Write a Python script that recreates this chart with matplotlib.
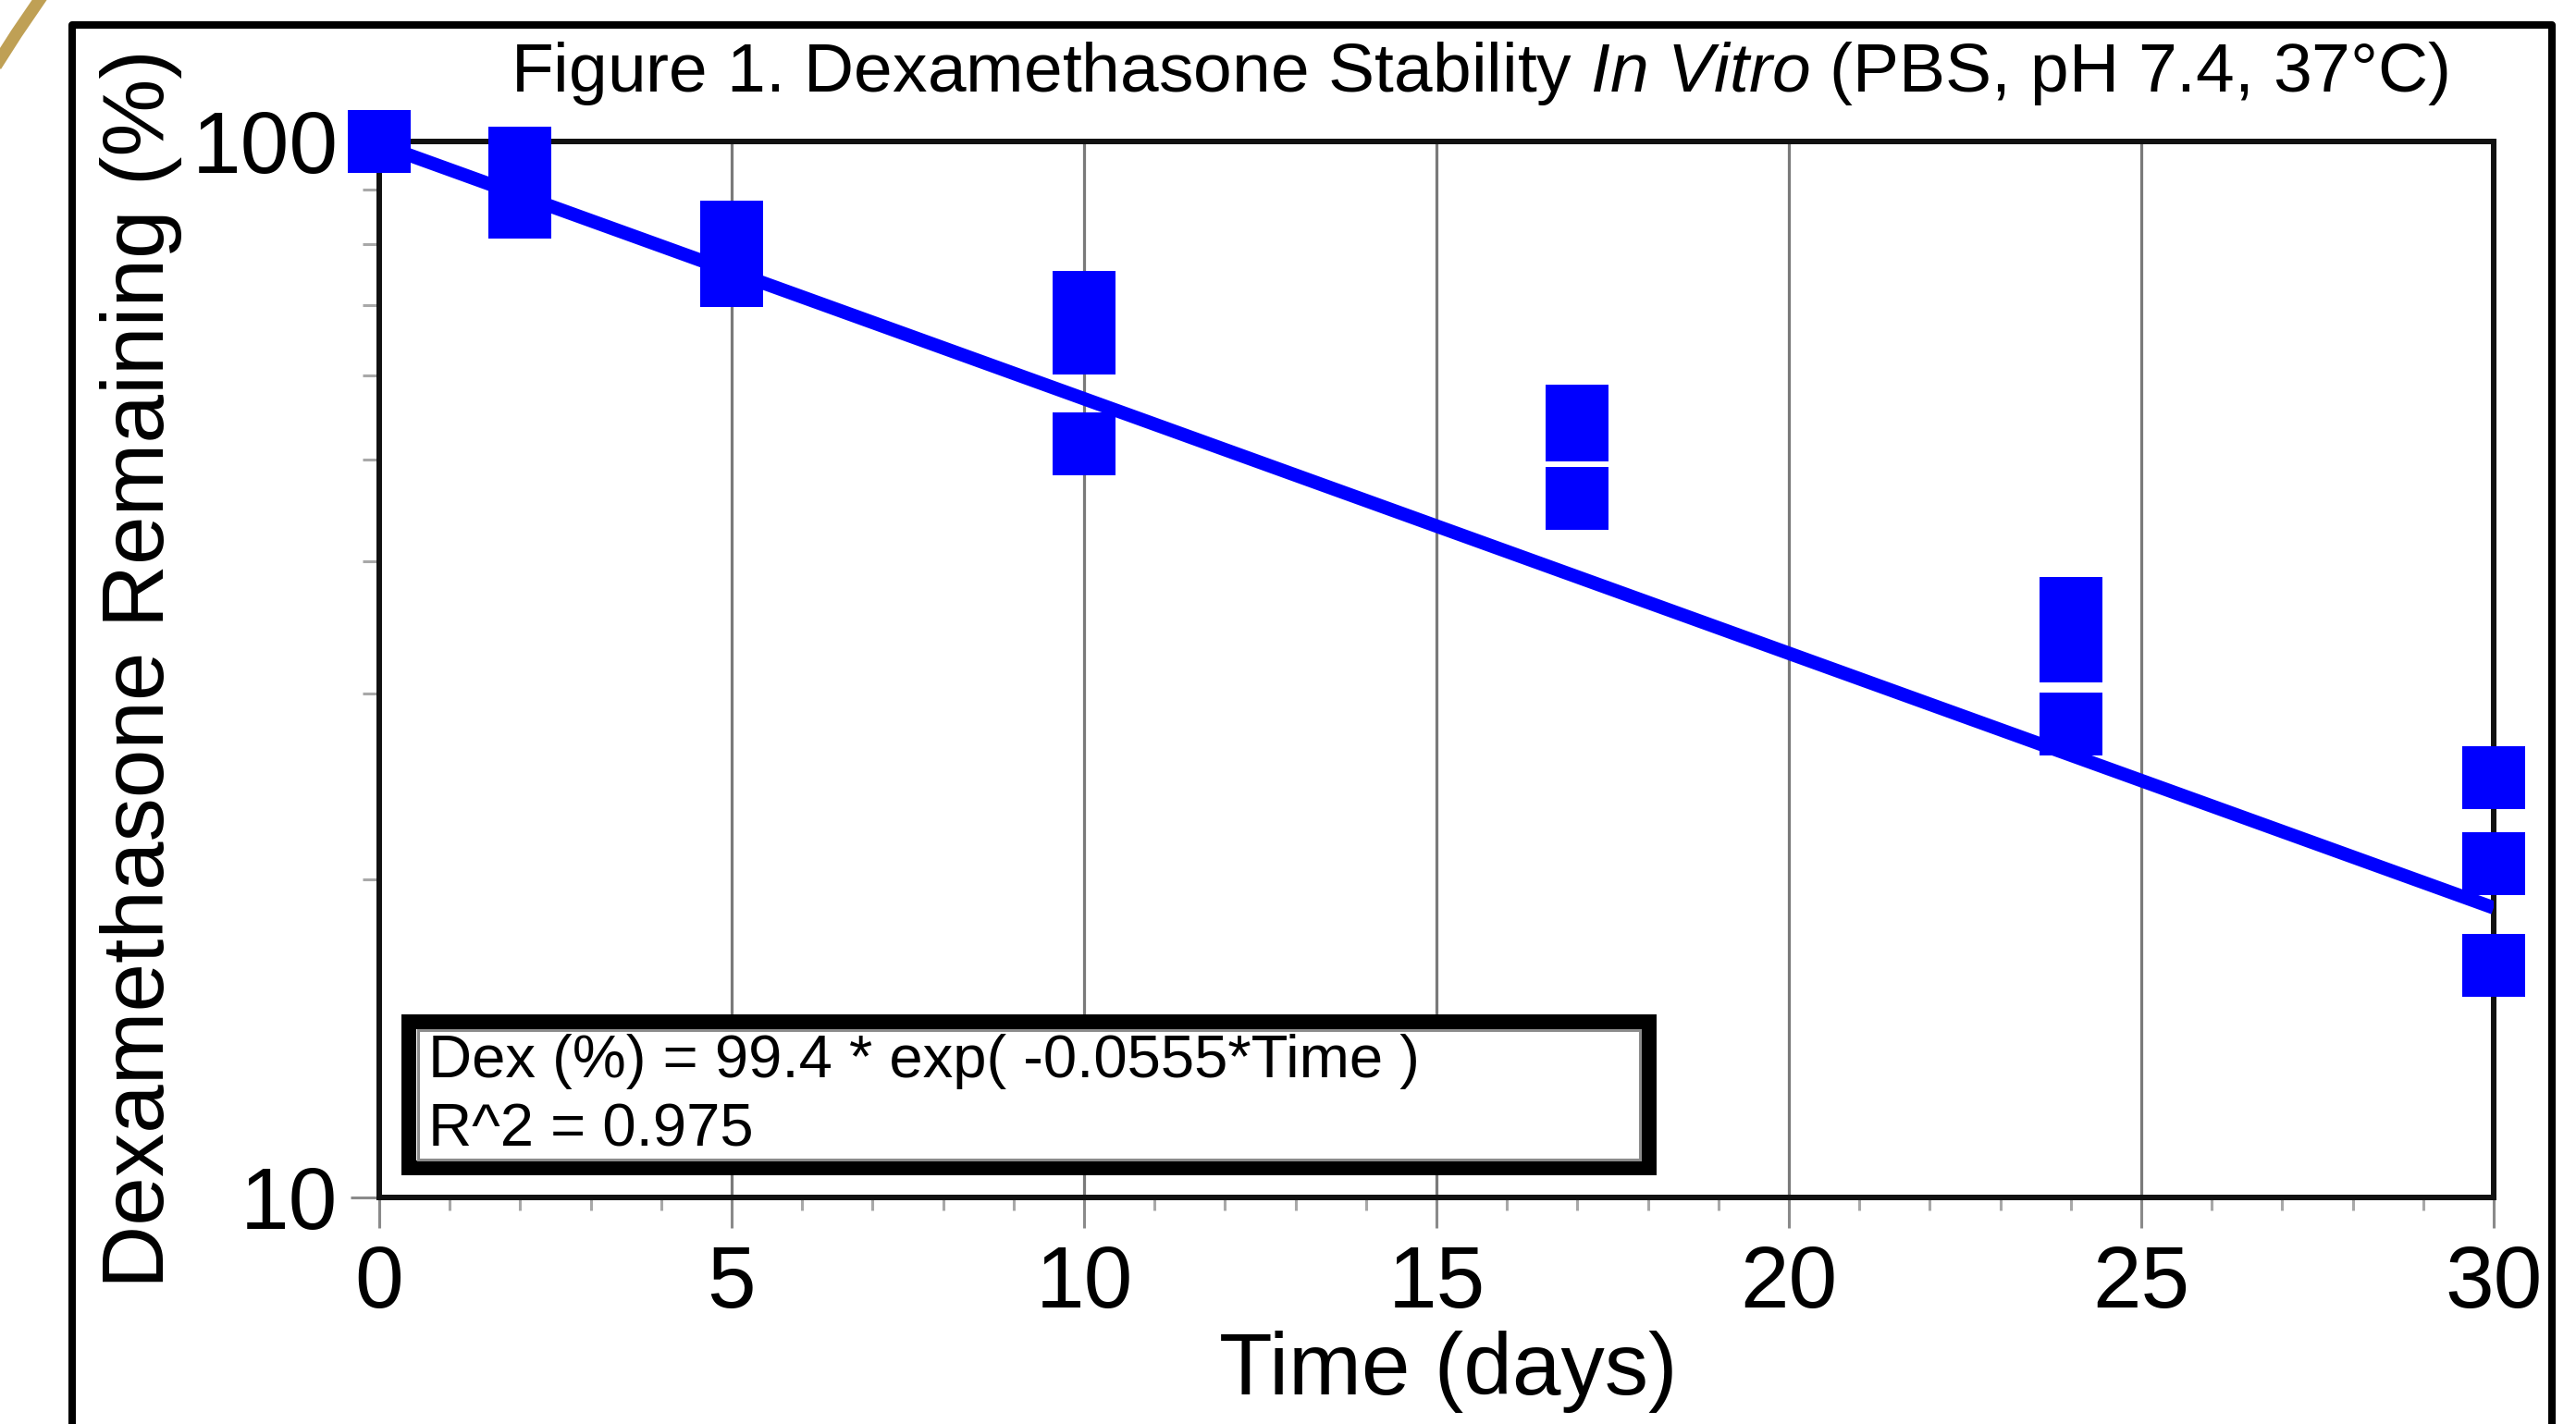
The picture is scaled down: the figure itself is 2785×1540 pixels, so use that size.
import matplotlib
matplotlib.use("Agg")
import matplotlib.pyplot as plt
from matplotlib.patches import Rectangle
from matplotlib.lines import Line2D
import numpy as np

plt.rcParams['font.family'] = ['Liberation Sans', 'DejaVu Sans']
plt.rcParams['mathtext.fontset'] = 'custom'
plt.rcParams['mathtext.rm'] = 'Liberation Sans'
plt.rcParams['mathtext.it'] = 'Liberation Sans:italic'

# ---- data ----
time_days = [0, 2, 2, 5, 5, 10, 10, 10, 17, 17, 17, 24, 24, 24, 30, 30, 30]
dex_remaining = [100.0, 96.4, 86.6, 82.0, 74.7, 70.4, 64.4, 51.7,
                 55.0, 53.3, 45.9, 36.1, 32.9, 28.1, 25.0, 20.7, 16.6]
fit_A = 99.4
fit_k = 0.0555
fit_r2 = 0.975
x_ticks = [0, 5, 10, 15, 20, 25, 30]
y_ticks = [10, 100]

title_text = r"Figure 1. Dexamethasone Stability $\mathit{In\ Vitro}$ (PBS, pH 7.4, 37°C)"
xlabel_text = "Time (days)"
ylabel_text = "Dexamethasone Remaining (%)"
legend_lines = ["Dex (%) = 99.4 * exp( -0.0555*Time )", "R^2 = 0.975"]

W, H = 2785, 1540
fig = plt.figure(figsize=(W / 100, H / 100), dpi=100)
fig.patch.set_facecolor('white')

ax_left, ax_right, ax_top, ax_bottom = 410, 2696, 153, 1295
ax = fig.add_axes([ax_left / W, 1 - ax_bottom / H, (ax_right - ax_left) / W, (ax_bottom - ax_top) / H])

ax.set_yscale('log')
ax.set_xlim(0, 30)
ax.set_ylim(10, 100)

ax.set_xticks(x_ticks)
ax.set_xticks(np.arange(0, 31, 1), minor=True)
ax.set_yticks(y_ticks)
ax.set_yticklabels([str(v) for v in y_ticks])
ax.yaxis.set_minor_formatter(matplotlib.ticker.NullFormatter())
ax.set_xticklabels([str(v) for v in x_ticks])
ax.xaxis.grid(True, which='major', color='#7a7a7a', linewidth=2.3, zorder=0)
ax.set_axisbelow(True)

for side in ['left', 'right', 'top', 'bottom']:
    ax.spines[side].set_linewidth(4.3)
    ax.spines[side].set_color('#111111')
    ax.spines[side].set_zorder(2)

ax.tick_params(axis='x', which='major', direction='out', length=24, width=2.2, color='#8a8a8a',
               labelsize=68, pad=12)
ax.tick_params(axis='x', which='minor', direction='out', length=10, width=2.2, color='#a8a8a8')
ax.tick_params(axis='y', which='major', direction='out', length=22, width=2.2, color='#8a8a8a',
               labelsize=68, pad=10)
ax.tick_params(axis='y', which='minor', direction='out', length=13, width=2.2, color='#a8a8a8')
ax.tick_params(top=False, right=False)

# fit line
t_fit = np.array([0.0, 30.0])
ax.plot(t_fit, fit_A * np.exp(-fit_k * t_fit), color='#0000ff', linewidth=10.5,
        solid_capstyle='butt', zorder=3)

# data points
ax.plot(time_days, dex_remaining, linestyle='none', marker='s', markersize=49,
        markerfacecolor='#0000ff', markeredgewidth=0, color='#0000ff', clip_on=False, zorder=4)

# equation box
bx0, by0, bx1, by1 = 0.0142, 0.0280, 0.6004, 0.1664
box = Rectangle((bx0, by0), bx1 - bx0, by1 - by0, transform=ax.transAxes,
                facecolor='white', edgecolor='black', linewidth=11.5, zorder=5)
ax.add_patch(box)
ix, iy = 0.0040, 0.0080
inner = Rectangle((bx0 + ix, by0 + iy), bx1 - bx0 - 2 * ix, by1 - by0 - 2 * iy,
                  transform=ax.transAxes, facecolor='none', edgecolor='#8c8c8c', linewidth=2.2, zorder=5)
ax.add_patch(inner)
ax.text(0.0232, 0.1138, legend_lines[0], transform=ax.transAxes, fontsize=47, va='baseline',
        ha='left', zorder=6)
ax.text(0.0232, 0.049, legend_lines[1], transform=ax.transAxes, fontsize=47, va='baseline',
        ha='left', zorder=6)

# title and axis labels
fig.text(1600 / W, 1 - 80 / H, title_text, fontsize=54, ha='center', va='center')
fig.text(1566 / W, 1 - 1483 / H, xlabel_text, fontsize=68, ha='center', va='center')
fig.text(153 / W, 1 - 723 / H, ylabel_text, fontsize=68, ha='center', va='center', rotation=90)

# outer frame
def px(x, y):
    return x / W, 1 - y / H

fx, fy = zip(*[px(78, 1600), px(78, 27), px(2759, 27), px(2759, 1600)])
fig.add_artist(Line2D(fx, fy, transform=fig.transFigure, color='black', linewidth=5.8,
                      solid_joinstyle='round'))

# gold corner decoration
gx, gy = zip(*[px(-5, 72), px(18, 36), px(46, -5)])
fig.add_artist(Line2D(gx, gy, transform=fig.transFigure, color='#bfa055', linewidth=9.5))

fig.savefig('out.png', dpi=100)
